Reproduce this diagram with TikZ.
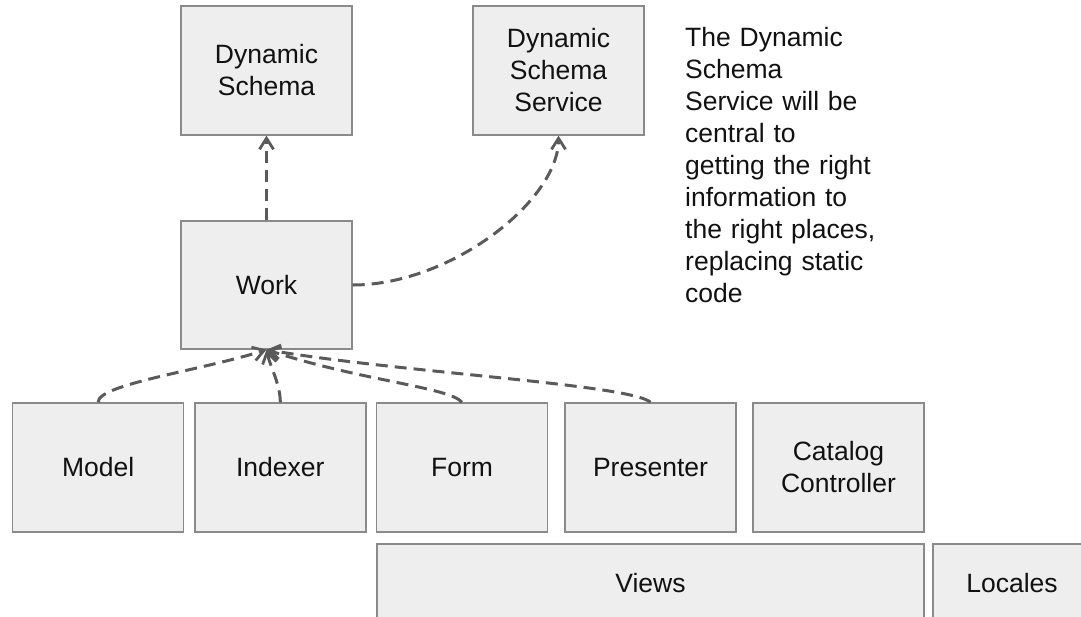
\documentclass[tikz,border=0pt]{standalone}
\usepackage{fontspec}
\setmainfont{Liberation Sans}
\usetikzlibrary{arrows.meta}
\definecolor{boxfill}{HTML}{EEEEEE}
\definecolor{boxline}{HTML}{8A8A8A}
\definecolor{arrowcol}{HTML}{5A5A5A}
\definecolor{txt}{HTML}{111111}
\begin{document}
\begin{tikzpicture}[x=1pt,y=-1pt,
  box/.style={draw=boxline, fill=boxfill, line width=1.4pt, minimum width=171pt, minimum height=129pt,
    inner sep=0pt, align=center, text=txt, font=\fontsize{26.5}{32}\selectfont},
  dep/.style={draw=arrowcol, line width=3pt, dash pattern=on 12pt off 7pt,
    -{Straight Barb[length=11pt,width=14pt,line width=2.8pt]}}]
\useasboundingbox (0,0) rectangle (1081,616);
\clip (0,0) rectangle (1081,616);
% top row
\node[box] (ds) at (266.5,70.5) {Dynamic\\Schema};
\node[box] (dss) at (558.5,70.5) {Dynamic\\Schema\\Service};
\node[box, minimum height=128pt] (work) at (266.5,285) {Work};
% middle row
\node[box] (model) at (98.2,467.5) {Model};
\node[box] (indexer) at (280.3,467.5) {Indexer};
\node[box] (form) at (462,467.5) {Form};
\node[box] (presenter) at (650.5,467.5) {Presenter};
\node[box] (catalog) at (838.5,467.5) {Catalog\\Controller};
% bottom row
\node[box, minimum width=547pt, minimum height=78pt] (views) at (650.5,583) {Views};
\node[box, minimum width=158pt, minimum height=78pt] (locales) at (1012,583) {Locales};
% note
\node[anchor=north west, inner sep=0pt, text width=320pt, align=left, text=txt,
  font=\fontsize{26.5}{32}\selectfont] (note) at (685,27)
  {The Dynamic\\Schema\\Service will be\\central to\\getting the right\\information to\\the right places,\\replacing static\\code};
% connectors
\draw[dep] (work.north) -- (ds.south);
\draw[dep] (work.east) .. controls +(98,0) and +(0,65) .. (dss.south);
\draw[dep] (model.north) .. controls +(-1,-18) and +(-66,21) .. (work.south);
\draw[dep] (indexer.north) .. controls +(0,-18) and +(4,18) .. (work.south);
\draw[dep] (form.north) .. controls +(-12,-15) and +(94,31) .. (work.south);
\draw[dep] (presenter.north) .. controls +(-20,-18) and +(134,23) .. (work.south);
\end{tikzpicture}
\end{document}
